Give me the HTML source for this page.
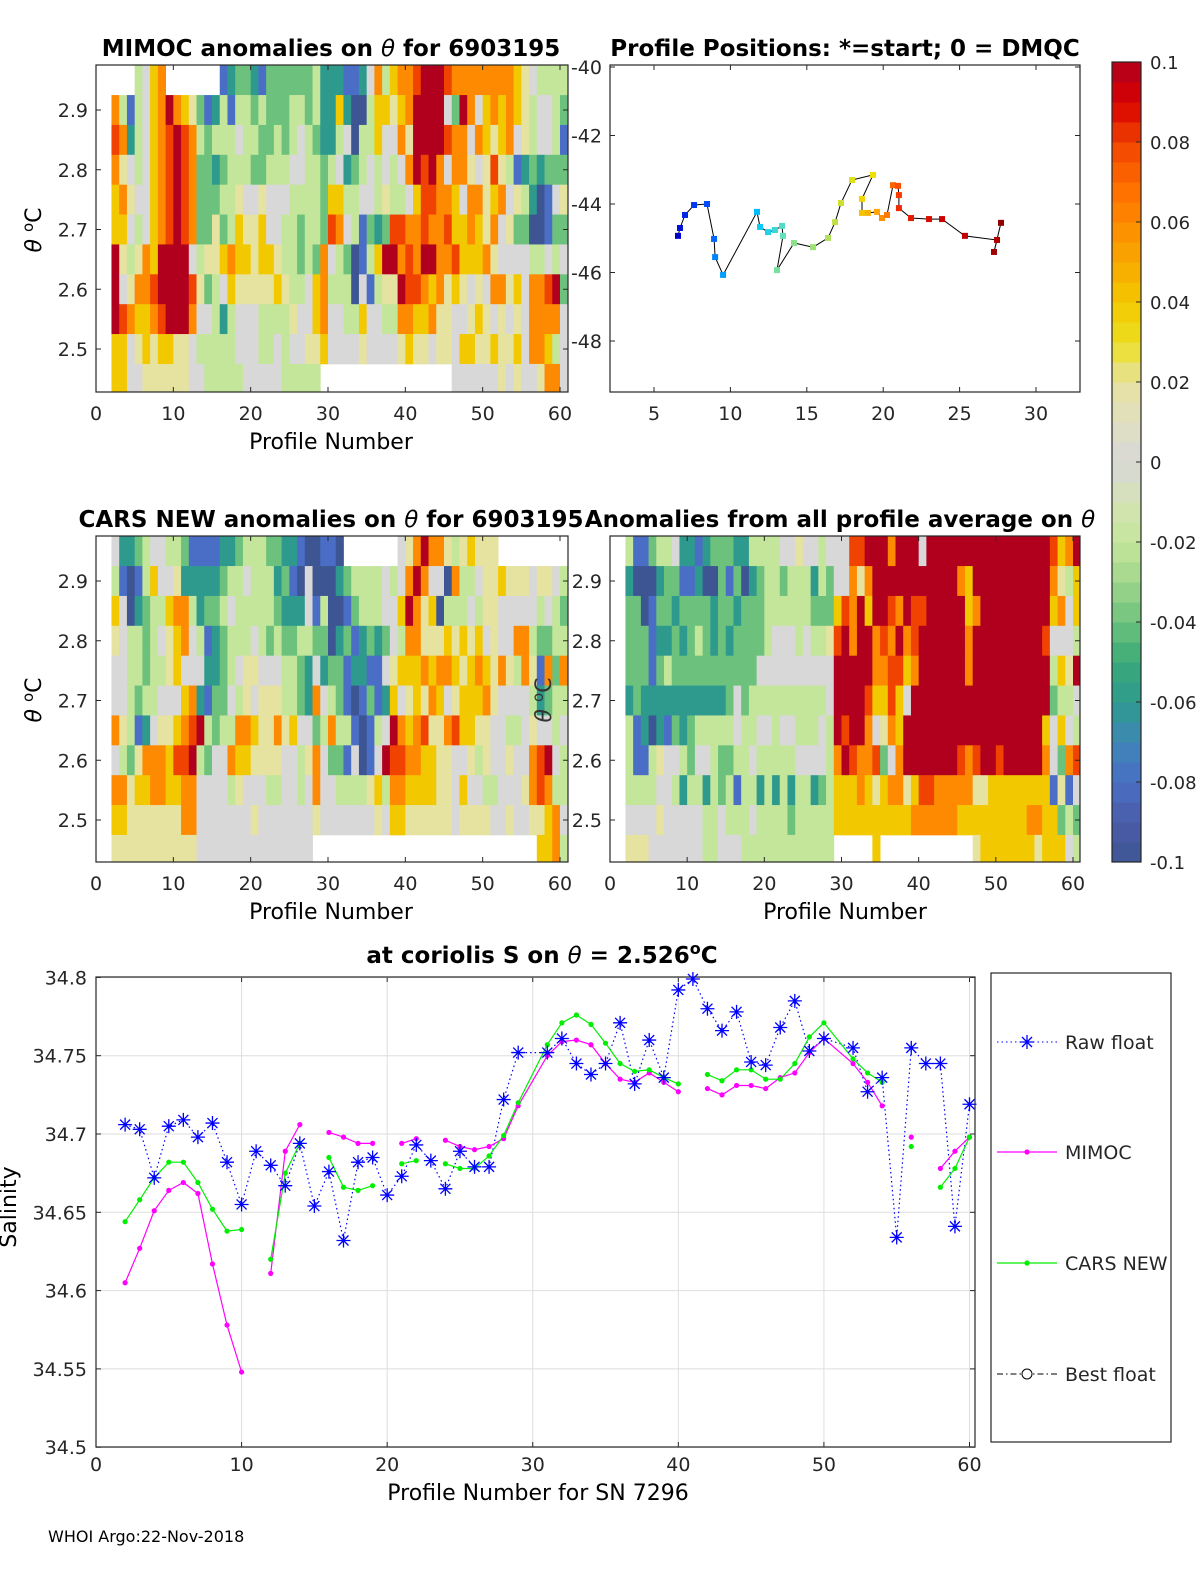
<!DOCTYPE html>
<html><head><meta charset="utf-8">
<style>
html,body{margin:0;padding:0;background:#fff;}
svg{display:block;font-family:"DejaVu Sans","Liberation Sans",sans-serif;}
</style></head>
<body>
<svg id="fig" width="1200" height="1575" viewBox="0 0 1200 1575" xmlns="http://www.w3.org/2000/svg">
<defs>
<clipPath id="c1"><rect x="96" y="65" width="472" height="327"/></clipPath>
<clipPath id="c2"><rect x="96" y="536" width="472" height="326"/></clipPath>
<clipPath id="c3"><rect x="610" y="536" width="470" height="326"/></clipPath>
</defs>
<g id="hm1" clip-path="url(#c1)"></g>
<g id="hm2" clip-path="url(#c2)"></g>
<g id="hm3" clip-path="url(#c3)"></g>
<g id="pos"></g>
<g id="cbar"></g>
<g id="sal"></g>
<g id="axes"></g>

<text x="331" y="56" text-anchor="middle" font-size="23" font-weight="bold">MIMOC anomalies on <tspan font-style="italic" font-weight="normal">θ</tspan>  for 6903195</text>
<text x="845" y="56" text-anchor="middle" font-size="23" font-weight="bold">Profile Positions: *=start; 0 = DMQC</text>
<text x="331" y="527" text-anchor="middle" font-size="23" font-weight="bold">CARS NEW anomalies on <tspan font-style="italic" font-weight="normal">θ</tspan> for 6903195</text>
<text x="840" y="527" text-anchor="middle" font-size="23" font-weight="bold">Anomalies from all profile average on <tspan font-style="italic" font-weight="normal">θ</tspan></text>
<text x="542" y="963" text-anchor="middle" font-size="23" font-weight="bold">at coriolis S on <tspan font-style="italic" font-weight="normal">θ</tspan> = 2.526<tspan dy="-9" font-size="16">o</tspan><tspan dy="9">C</tspan></text>

<text x="331" y="449" text-anchor="middle" font-size="22">Profile Number</text>
<text x="331" y="919" text-anchor="middle" font-size="22">Profile Number</text>
<text x="845" y="919" text-anchor="middle" font-size="22">Profile Number</text>
<text transform="translate(41,230) rotate(-90)" text-anchor="middle" font-size="22"><tspan font-style="italic">θ</tspan> <tspan dy="-8" font-size="15">o</tspan><tspan dy="8">C</tspan></text>
<text transform="translate(41,700) rotate(-90)" text-anchor="middle" font-size="22"><tspan font-style="italic">θ</tspan> <tspan dy="-8" font-size="15">o</tspan><tspan dy="8">C</tspan></text>
<text transform="translate(551,700) rotate(-90)" text-anchor="middle" font-size="22" fill="#333"><tspan font-style="italic">θ</tspan> <tspan dy="-8" font-size="15">o</tspan><tspan dy="8">C</tspan></text>
<text x="538" y="1500" text-anchor="middle" font-size="22">Profile Number for SN 7296</text>
<text transform="translate(16,1207) rotate(-90)" text-anchor="middle" font-size="22">Salinity</text>
<text x="48" y="1542" font-size="16">WHOI Argo:22-Nov-2018</text>
</svg>
<script>
// ---------- colour scale data ----------
const levelChars = ["0","1","2","3","4","5","6","7","8","9","X"];
const levelValues = [-0.1,-0.08,-0.06,-0.04,-0.02,0,0.02,0.04,0.06,0.08,0.1];
const cmapStops = [-0.1,-0.09,-0.08,-0.07,-0.06,-0.05,-0.04,-0.03,-0.02,-0.01,0,0.01,0.02,0.03,0.04,0.05,0.06,0.07,0.08,0.09,0.1];
const cmapColors = ["#3d5592","#4a5ca8","#4a6ec5","#3e86b6","#2e9a8e","#3aaa78","#6cc27c","#a0d68c","#c4e69a","#d5e3b5","#d8d8d8","#e0dfc0","#e6e2a0","#ecdf20","#f2c800","#f8a800","#fd8a00","#ff6a00","#f04200","#d80000","#b0001e"];
function hex(c){return [parseInt(c.substr(1,2),16),parseInt(c.substr(3,2),16),parseInt(c.substr(5,2),16)];}
function cmap(v){let f=(v+0.1)/0.01;f=Math.max(0,Math.min(20,f));const i=Math.min(19,Math.floor(f)),t=f-i;
  const a=hex(cmapColors[i]),b=hex(cmapColors[i+1]);
  return "rgb("+a.map((x,k)=>Math.round(x+(b[k]-x)*t)).join(",")+")";}
const jetColors = ["#0000c8","#0050ff","#00c8ff","#60e0c0","#b0e060","#f0e000","#ffa000","#ff4000","#d00000","#900000"];
function jet(f){f=Math.max(0,Math.min(1,f))*(jetColors.length-1);const i=Math.min(jetColors.length-2,Math.floor(f)),t=f-i;
  const a=hex(jetColors[i]),b=hex(jetColors[i+1]);
  return "rgb("+a.map((x,k)=>Math.round(x+(b[k]-x)*t)).join(",")+")";}

// ---------- heatmap data (rows top->bottom, theta centres; columns = profiles 2..60) ----------
const rowTheta = [2.95,2.90,2.85,2.80,2.75,2.70,2.65,2.60,2.55,2.50,2.45];
const mimocRows = [
".,.,.,4,5,7,8,.,.,.,.,.,.,.,1,2,3,3,2,1,3,3,3,3,3,3,4,2,2,2,1,1,2,5,8,4,7,8,8,9,X,X,X,9,8,8,8,8,8,8,8,8,7,6,5,4,4,4,4",
"8,4,1,4,5,7,8,X,8,7,6,3,1,2,4,1,4,4,3,4,3,3,3,4,4,3,4,2,2,7,2,0,0,4,7,7,6,7,8,X,X,X,X,5,3,X,8,5,7,8,7,8,7,6,4,5,5,4,3",
"9,8,2,4,5,7,8,9,X,9,8,4,3,4,4,4,5,4,4,3,3,4,3,4,5,4,3,2,2,4,5,0,4,4,7,5,5,8,6,X,X,X,X,9,8,8,5,8,7,6,7,8,5,6,4,5,5,4,1",
"8,6,5,4,5,7,8,9,X,9,8,3,3,2,3,4,4,4,3,3,4,4,4,5,5,4,4,3,4,5,2,3,4,5,4,5,4,5,8,X,9,X,8,5,8,8,6,5,6,9,6,4,1,2,3,2,3,3,3",
"7,8,6,5,5,7,8,9,X,9,8,3,3,3,4,4,6,5,5,6,5,5,5,4,4,4,4,3,7,7,4,4,5,5,4,6,4,4,5,7,9,9,8,8,7,5,8,8,6,7,8,5,6,4,2,0,1,5,6",
"7,7,5,4,5,7,8,9,X,9,8,3,3,6,3,4,7,6,6,7,5,5,4,4,3,4,4,3,9,8,5,4,1,3,2,3,9,9,8,8,9,8,8,9,7,7,8,7,6,8,5,6,3,3,0,0,1,3,3",
"X,6,4,6,8,7,X,X,X,X,5,4,6,6,7,8,7,7,6,7,7,6,4,4,3,4,3,8,5,4,3,0,1,4,7,X,X,8,9,8,X,X,8,8,9,7,7,7,8,6,5,5,5,5,4,4,5,4,5",
"X,5,6,8,8,9,X,X,X,X,9,6,3,4,5,7,6,6,6,6,6,7,6,4,4,5,7,8,4,4,4,0,5,1,4,6,6,X,9,9,8,7,8,6,7,6,5,6,5,8,8,6,7,5,8,8,9,X,3",
"X,9,8,7,7,8,9,X,X,X,8,5,5,4,2,4,5,5,5,4,4,4,4,6,5,5,7,8,5,5,4,4,7,5,5,4,4,8,8,7,7,8,6,6,5,5,6,7,6,5,6,5,6,5,8,8,8,8,5",
"7,7,5,6,7,6,7,7,6,6,5,4,4,4,4,4,5,5,5,4,4,5,4,5,5,6,6,7,5,5,5,5,6,5,5,5,5,6,7,6,6,5,6,6,5,7,7,6,6,7,6,6,7,5,8,8,7,4,5",
"7,7,5,5,6,6,6,6,6,6,5,5,4,4,4,4,4,5,5,5,5,5,4,4,4,4,4,.,.,.,.,.,.,.,.,.,.,.,.,.,.,.,.,.,5,5,5,5,5,5,6,5,6,5,5,6,8,8,5"
];
const carsRows = [
"5,2,2,3,4,5,5,4,4,3,1,1,1,1,2,2,3,4,4,4,3,3,2,2,1,0,0,1,1,0,.,.,.,.,.,.,.,5,6,8,X,8,8,6,4,6,7,6,6,6,.,.,.,.,.,.,.,.,.",
"4,1,0,1,4,7,5,5,6,2,2,2,2,2,3,4,4,5,4,4,4,2,3,1,0,5,0,0,0,2,3,4,4,4,4,5,4,5,8,X,8,5,5,0,8,4,4,5,6,6,7,6,6,6,5,6,6,5,4",
"7,5,0,2,3,4,4,7,8,8,4,2,3,3,4,5,4,4,4,4,4,3,2,2,2,5,1,4,0,0,1,3,4,4,4,5,5,7,X,8,6,7,0,4,4,4,5,4,6,6,5,5,5,5,5,4,5,4,3",
"6,5,4,4,3,4,5,6,7,8,5,4,1,2,3,4,4,4,5,4,3,4,3,3,4,4,3,3,0,2,3,1,2,3,2,3,5,4,8,8,6,6,6,7,6,7,6,7,5,6,5,5,8,8,4,3,3,4,4",
"5,5,4,4,3,4,4,6,7,5,5,5,2,2,3,4,5,6,6,5,5,5,4,4,3,2,5,2,3,3,1,2,2,1,1,5,6,7,7,7,8,7,8,8,7,6,7,8,7,6,8,6,4,8,6,1,8,3,8",
"5,5,4,3,4,4,5,5,5,7,8,2,1,3,3,5,4,6,5,6,6,6,4,4,3,2,8,5,4,3,1,0,1,3,1,2,7,5,6,7,6,8,7,5,6,7,7,7,8,6,5,5,5,5,4,2,3,4,4",
"8,6,4,1,2,5,6,6,7,8,9,X,4,3,4,4,8,8,7,6,6,8,6,7,5,5,3,4,8,4,4,1,0,1,4,5,X,8,7,8,9,6,6,8,9,7,7,6,6,5,5,4,4,5,6,5,5,4,5",
"5,4,3,6,8,8,8,7,9,9,X,4,3,5,5,8,7,7,6,6,6,6,5,5,4,6,8,5,3,3,1,5,0,1,5,X,9,9,8,8,7,7,6,6,5,5,6,4,6,5,5,6,5,5,8,9,X,5,4",
"8,8,6,7,7,8,8,7,7,8,8,5,5,5,5,4,6,5,5,5,4,4,5,5,4,5,8,5,5,4,4,4,4,6,7,4,8,8,7,7,7,7,6,6,5,7,5,5,4,4,5,5,5,6,8,9,8,4,4",
"7,7,6,6,6,6,6,6,6,8,8,5,5,5,5,5,5,5,6,5,5,5,5,5,5,5,6,5,5,5,5,5,5,5,6,5,7,7,6,6,6,6,6,6,5,6,6,6,6,5,5,6,5,5,6,6,7,8,5",
"6,6,6,6,6,6,6,6,6,6,6,5,5,5,5,5,5,5,5,5,5,5,5,5,5,5,.,.,.,.,.,.,.,.,.,.,.,.,.,.,.,.,.,.,.,.,.,.,.,.,.,.,.,.,.,7,7,8,4"
];
const avgRows = [
"4,1,1,3,4,4,5,2,2,1,2,3,3,3,2,2,4,4,4,4,5,5,6,5,5,4,5,5,5,9,9,X,X,X,8,X,X,X,5,X,X,X,X,X,X,X,X,X,X,X,X,X,X,X,X,9,7,8,X",
"2,0,0,0,2,3,3,1,1,2,0,0,3,1,3,0,2,3,4,4,3,4,4,4,2,4,3,5,5,8,6,8,X,X,X,X,X,X,X,X,X,X,X,8,7,X,X,X,X,X,X,X,X,X,X,8,6,4,7",
"3,3,0,1,3,3,2,3,3,3,3,2,3,3,2,3,3,3,4,4,4,4,4,4,3,3,3,7,9,8,X,7,X,X,9,8,X,9,9,X,X,X,X,X,7,8,X,X,X,X,X,X,X,X,X,7,8,5,7",
"3,3,3,1,2,2,3,2,3,4,3,2,3,2,3,3,3,3,4,5,5,5,4,5,4,4,6,9,X,8,X,X,8,9,8,X,8,9,X,X,X,X,X,X,8,X,X,X,X,X,X,X,X,X,9,5,5,5,4",
"3,3,3,1,3,4,3,3,3,3,3,3,3,3,3,3,3,5,5,5,5,5,5,5,5,5,5,X,X,X,X,X,8,8,9,9,7,8,X,X,X,X,X,X,8,X,X,X,X,X,X,X,X,X,X,4,7,6,X",
"2,3,2,2,2,2,2,2,2,2,2,2,2,3,5,3,4,4,4,4,4,4,4,4,4,4,5,X,X,X,X,9,7,7,9,7,5,X,X,X,X,X,X,X,X,X,X,X,X,X,X,X,X,X,X,3,4,4,5",
"4,1,2,0,2,1,3,2,3,4,4,4,4,4,5,4,4,5,5,4,5,5,4,4,4,5,4,X,9,X,X,8,5,6,8,7,X,X,X,X,X,X,X,X,X,X,X,X,X,X,X,X,X,X,7,5,7,5,4",
"4,1,1,4,6,5,5,4,3,5,5,4,3,3,4,4,5,4,4,4,4,4,5,5,5,5,4,8,X,9,8,8,9,3,5,8,X,X,X,X,X,X,X,9,8,9,X,X,9,X,X,X,X,X,8,5,3,8,9",
"4,4,4,4,5,5,4,2,4,4,2,4,3,4,1,4,4,2,4,2,4,2,4,4,2,3,4,7,7,7,8,7,6,7,8,8,6,7,9,9,8,8,8,8,8,6,6,7,7,7,7,7,7,7,7,1,6,1,5",
"5,5,5,5,6,5,5,5,5,5,4,4,5,4,4,4,5,4,4,4,4,3,4,4,4,4,4,7,7,7,7,7,7,7,7,7,7,8,8,8,8,8,8,7,7,7,7,7,7,7,7,7,8,8,7,7,3,4,3",
"6,6,6,5,5,5,5,5,5,5,4,4,5,5,5,4,4,4,4,4,4,4,4,4,4,4,4,.,.,.,.,.,7,.,.,.,.,.,.,.,.,.,.,.,.,6,7,7,7,7,7,7,7,6,7,7,7,5,4"
];

// ---------- salinity chart data ----------
const rawProfiles = [2,3,4,5,6,7,8,9,10,11,12,13,14,15,16,17,18,19,20,21,22,23,24,25,26,27,28,29,31,32,33,34,35,36,37,38,39,40,41,42,43,44,45,46,47,48,49,50,52,53,54,55,56,57,58,59,60];
const rawSal = [34.706,34.703,34.672,34.705,34.709,34.698,34.707,34.682,34.655,34.689,34.680,34.667,34.694,34.654,34.676,34.632,34.682,34.685,34.661,34.673,34.693,34.683,34.665,34.689,34.679,34.679,34.722,34.752,34.752,34.761,34.745,34.738,34.745,34.771,34.732,34.760,34.736,34.792,34.799,34.780,34.766,34.778,34.746,34.744,34.768,34.785,34.753,34.761,34.755,34.727,34.736,34.634,34.755,34.745,34.745,34.641,34.719];
const modelProfiles = [2,3,4,5,6,7,8,9,10,11,12,13,14,15,16,17,18,19,20,21,22,23,24,25,26,27,28,29,31,32,33,34,35,36,37,38,39,40,41,42,43,44,45,46,47,48,49,50,52,53,54,55,56,57,58,59,60];
const mimocSal = [34.605,34.627,34.651,34.664,34.669,34.662,34.617,34.578,34.548,null,34.611,34.689,34.706,null,34.701,34.698,34.694,34.694,null,34.694,34.697,null,34.696,34.692,34.690,34.692,34.697,34.718,34.750,34.759,34.760,34.757,34.745,34.735,34.733,34.739,34.733,34.727,null,34.729,34.725,34.731,34.731,34.729,34.736,34.739,34.752,34.761,34.745,34.733,34.718,null,34.698,null,34.678,34.689,34.698];
const carsSal = [34.644,34.658,34.672,34.682,34.682,34.669,34.652,34.638,34.639,null,34.620,34.675,34.694,null,34.685,34.666,34.664,34.667,null,34.681,34.683,null,34.681,34.678,34.678,34.686,34.699,34.720,34.757,34.771,34.776,34.770,34.758,34.745,34.740,34.741,34.736,34.732,null,34.738,34.734,34.741,34.741,34.735,34.735,34.745,34.762,34.771,34.748,34.739,34.733,null,34.692,null,34.666,34.678,34.698];
const salXTicks = [0,10,20,30,40,50,60];
const salYTicks = [34.5,34.55,34.6,34.65,34.7,34.75,34.8];
const salYLabels = ["34.5","34.55","34.6","34.65","34.7","34.75","34.8"];

// ---------- position data ----------
const posLon = [6.57,6.70,7.03,7.62,8.47,8.93,9.0,9.52,11.74,11.94,12.46,12.92,13.38,13.44,13.05,14.16,15.41,16.39,16.85,17.24,17.96,19.33,18.61,18.61,19.0,19.59,19.92,20.25,20.64,20.97,21.03,21.03,21.82,23.0,23.85,25.35,27.45,27.25,27.71];
const posLat = [-44.93,-44.70,-44.32,-44.03,-44.00,-45.02,-45.55,-46.07,-44.23,-44.67,-44.82,-44.76,-44.64,-44.93,-45.93,-45.14,-45.26,-44.99,-44.53,-43.97,-43.30,-43.15,-43.85,-44.26,-44.26,-44.23,-44.41,-44.32,-43.45,-43.47,-43.74,-44.12,-44.41,-44.44,-44.44,-44.93,-45.05,-45.40,-44.55];
const lonTicks = [5,10,15,20,25,30];
const latTicks = [-40,-42,-44,-46,-48];
const thetaTicks = [2.5,2.6,2.7,2.8,2.9];
const profTicks = [0,10,20,30,40,50,60];
const cbarTicks = [-0.1,-0.08,-0.06,-0.04,-0.02,0,0.02,0.04,0.06,0.08,0.1];
const cbarLabels = ["-0.1","-0.08","-0.06","-0.04","-0.02","0","0.02","0.04","0.06","0.08","0.1"];

const NS="http://www.w3.org/2000/svg";
function mk(tag,attrs,parent){const e=document.createElementNS(NS,tag);for(const k in attrs)e.setAttribute(k,attrs[k]);parent.appendChild(e);return e;}

// ---------- heatmaps ----------
function drawHeat(gid,rows,x0,x60,y29,name){
  const g=document.getElementById(gid);
  const xs=p=>x0+(x60-x0)*p/60;
  const ys=t=>y29-(t-2.9)*597.5;
  rows.forEach((r,i)=>{
    let vals=r.split(",");
    while(vals.length<59)vals.push(vals[vals.length-1]);
    vals=vals.slice(0,59);
    vals.forEach((c,k)=>{
      if(c==="."||c==="")return;
      const li=levelChars.indexOf(c); if(li<0)return;
      const p=k+2;
      const xa=xs(p),xb=xs(p+1);
      const ya=ys(rowTheta[i]+0.025),yb=ys(rowTheta[i]-0.025);
      const rc=mk("rect",{x:xa.toFixed(2),y:ya.toFixed(2),width:(xb-xa+0.4).toFixed(2),height:(yb-ya+0.4).toFixed(2),fill:cmap(levelValues[li])},g);
      
      
    });
  });
}
drawHeat("hm1",mimocRows,96,560,110,"mimoc");
drawHeat("hm2",carsRows,96,560,581,"cars");
drawHeat("hm3",avgRows,610,1073,581,"average");

// ---------- axes frames for heatmap panels ----------
const ax=document.getElementById("axes");
function frame(x,y,w,h,name){const r=mk("rect",{x:x,y:y,width:w,height:h,fill:"none",stroke:"#262626","stroke-width":1.2},ax);
  
  }
function heatAxes(left,right,top,bottom,x0,x60,y29,name,labelX){
  frame(left,top,right-left,bottom-top,name+'-frame');
  profTicks.forEach(p=>{const x=x0+(x60-x0)*p/60;
    mk("line",{x1:x,x2:x,y1:bottom,y2:bottom-5,stroke:"#262626"},ax);
    mk("line",{x1:x,x2:x,y1:top,y2:top+5,stroke:"#262626"},ax);
    const t=mk("text",{x:x,y:bottom+28,"text-anchor":"middle","font-size":19,fill:"#262626"},ax);t.textContent=p;
    
    });
  thetaTicks.forEach(th=>{const y=y29-(th-2.9)*597.5;
    mk("line",{x1:left,x2:left+5,y1:y,y2:y,stroke:"#262626"},ax);
    mk("line",{x1:right,x2:right-5,y1:y,y2:y,stroke:"#262626"},ax);
    const t=mk("text",{x:labelX,y:y+7,"text-anchor":"end","font-size":19,fill:"#262626"},ax);t.textContent=th.toFixed(1);
    
    });
}
heatAxes(96,568,65,392,96,560,110,"mimoc",88);
heatAxes(96,568,536,862,96,560,581,"cars",88);
heatAxes(610,1080,536,862,610,1073,581,"average",602);

// ---------- positions ----------
const pg=document.getElementById("pos");
const lx=v=>654+(v-5)*15.28, ly=v=>67-(v+40)*34.25;
frame(610,65,470,327,'positions-frame');
lonTicks.forEach(v=>{const x=lx(v);mk("line",{x1:x,x2:x,y1:392,y2:387,stroke:"#262626"},pg);mk("line",{x1:x,x2:x,y1:65,y2:70,stroke:"#262626"},pg);
  const t=mk("text",{x:x,y:420,"text-anchor":"middle","font-size":19,fill:"#262626"},pg);t.textContent=v;
  
  });
latTicks.forEach(v=>{const y=ly(v);mk("line",{x1:610,x2:615,y1:y,y2:y,stroke:"#262626"},pg);mk("line",{x1:1080,x2:1075,y1:y,y2:y,stroke:"#262626"},pg);
  const t=mk("text",{x:602,y:y+7,"text-anchor":"end","font-size":19,fill:"#262626"},pg);t.textContent=v;
  
  });
let pts=posLon.map((v,i)=>lx(v).toFixed(1)+","+ly(posLat[i]).toFixed(1)).join(" ");
const trk=mk("polyline",{points:pts,fill:"none",stroke:"#000","stroke-width":1},pg);


posLon.forEach((v,i)=>{
  const m=mk("rect",{x:lx(v)-3,y:ly(posLat[i])-3,width:6,height:6,fill:jet(i/(posLon.length-1))},pg);
  
  });

// ---------- colorbar ----------
const cb=document.getElementById("cbar");
const cy=v=>862-(v+0.1)*4000;
for(let i=0;i<40;i++){const v0=-0.1+i*0.005;
  const b=mk("rect",{x:1112,y:cy(v0+0.005),width:29,height:20.5,fill:cmap(v0+0.0025)},cb);
  
  }
mk("rect",{x:1112,y:62,width:29,height:800,fill:"none",stroke:"#262626","stroke-width":1.2},cb);
cbarTicks.forEach((v,i)=>{const y=cy(v);mk("line",{x1:1141,x2:1136,y1:y,y2:y,stroke:"#262626"},cb);
  const t=mk("text",{x:1150,y:y+7,"font-size":18,fill:"#262626"},cb);t.textContent=cbarLabels[i];
  
  });

// ---------- salinity ----------
const sg=document.getElementById("sal");
const sx=p=>96+p*(969.5-96)/60, sy=v=>1134-(v-34.7)*1566;
salXTicks.forEach(p=>{const x=sx(p);mk("line",{x1:x,x2:x,y1:977,y2:1447,stroke:"#dedede"},sg);
  mk("line",{x1:x,x2:x,y1:1447,y2:1442,stroke:"#262626"},sg);mk("line",{x1:x,x2:x,y1:977,y2:982,stroke:"#262626"},sg);
  const t=mk("text",{x:x,y:1471,"text-anchor":"middle","font-size":19,fill:"#262626"},sg);t.textContent=p;
  
  });
salYTicks.forEach((v,i)=>{const y=sy(v);mk("line",{x1:96,x2:975,y1:y,y2:y,stroke:"#dedede"},sg);
  mk("line",{x1:96,x2:101,y1:y,y2:y,stroke:"#262626"},sg);mk("line",{x1:975,x2:970,y1:y,y2:y,stroke:"#262626"},sg);
  const t=mk("text",{x:87,y:y+7,"text-anchor":"end","font-size":19,fill:"#262626"},sg);t.textContent=salYLabels[i];
  
  });
mk("rect",{x:96,y:977,width:879,height:470,fill:"none",stroke:"#262626","stroke-width":1.2},sg);
function segLines(prof,vals,color,dash,name){
  let seg=[];const segs=[];
  vals.forEach((v,i)=>{if(v===null){if(seg.length)segs.push(seg);seg=[];}else seg.push(sx(prof[i]).toFixed(1)+","+sy(v).toFixed(1));});
  if(seg.length)segs.push(seg);
  segs.forEach(s=>{const l=mk("polyline",{points:s.join(" "),fill:"none",stroke:color,"stroke-width":1.2,"stroke-dasharray":dash},sg);
    
    });
}
segLines(rawProfiles,rawSal,"#0000ff","1.5 3","raw-float");
segLines(modelProfiles,mimocSal,"#ff00ff","none","mimoc");
segLines(modelProfiles,carsSal,"#00ee00","none","cars");
modelProfiles.forEach((p,i)=>{
  if(mimocSal[i]!==null){const c=mk("circle",{cx:sx(p),cy:sy(mimocSal[i]),r:2.6,fill:"#ff00ff"},sg);
    
    }
  if(carsSal[i]!==null){const c=mk("circle",{cx:sx(p),cy:sy(carsSal[i]),r:2.6,fill:"#00ee00"},sg);
    
    }
});
function star(x,y,g){const s=7;
  const p=`M${x-s},${y}H${x+s}M${x},${y-s}V${y+s}M${x-5},${y-5}L${x+5},${y+5}M${x-5},${y+5}L${x+5},${y-5}`;
  return mk("path",{d:p,stroke:"#0000ff","stroke-width":1.3,fill:"none"},g);}
rawProfiles.forEach((p,i)=>{const s=star(sx(p),sy(rawSal[i]),sg);
  
  });

// legend
const lg=mk("g",{},sg);


mk("rect",{x:991,y:973,width:180,height:469,fill:"#fff",stroke:"#262626","stroke-width":1.2},lg);
const legY=[1042,1152,1263,1374];
const legText=["Raw float","MIMOC","CARS NEW","Best float"];
mk("line",{x1:997,x2:1057,y1:legY[0],y2:legY[0],stroke:"#0000ff","stroke-dasharray":"1.5 3"},lg);star(1027,legY[0],lg);
mk("line",{x1:997,x2:1057,y1:legY[1],y2:legY[1],stroke:"#ff00ff","stroke-width":1.2},lg);mk("circle",{cx:1027,cy:legY[1],r:2.6,fill:"#ff00ff"},lg);
mk("line",{x1:997,x2:1057,y1:legY[2],y2:legY[2],stroke:"#00ee00","stroke-width":1.2},lg);mk("circle",{cx:1027,cy:legY[2],r:2.6,fill:"#00ee00"},lg);
mk("line",{x1:997,x2:1057,y1:legY[3],y2:legY[3],stroke:"#000","stroke-dasharray":"6 3 1.5 3"},lg);mk("circle",{cx:1027,cy:legY[3],r:5,fill:"#fff",stroke:"#000"},lg);
legText.forEach((s,i)=>{const t=mk("text",{x:1065,y:legY[i]+7,"font-size":19,fill:"#262626"},lg);t.textContent=s;
  
  });
</script>
</body></html>
